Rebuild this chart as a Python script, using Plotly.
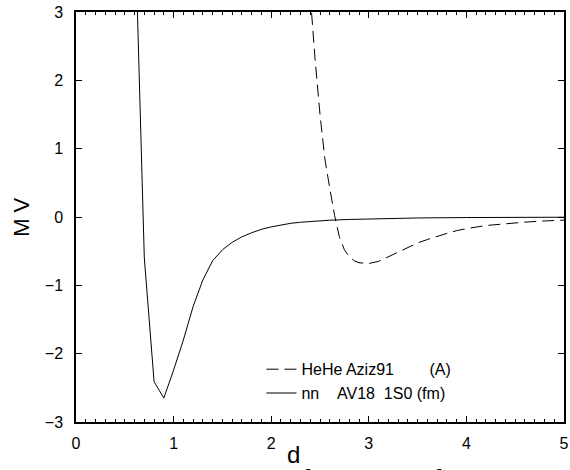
import plotly.graph_objects as go

# nn AV18 1S0 potential (solid)
nn_d = [0.6, 0.7, 0.8, 0.9, 1.0, 1.1, 1.2, 1.3, 1.4, 1.5, 1.6, 1.7, 1.8, 1.9,
        2.0, 2.1, 2.2, 2.3, 2.4, 2.5, 2.6, 2.8, 3.0, 3.5, 4.0, 4.5, 5.0]
nn_v = [4.5, -0.60, -2.41, -2.65, -2.24, -1.80, -1.31, -0.92, -0.64, -0.48, -0.37,
        -0.29, -0.23, -0.18, -0.145, -0.115, -0.092, -0.077, -0.065, -0.055,
        -0.047, -0.036, -0.028, -0.014, -0.008, -0.005, -0.003]

# HeHe Aziz91 potential (dashed)
he_d = [2.40, 2.45, 2.50, 2.55, 2.60, 2.65, 2.70, 2.75, 2.80, 2.85, 2.90, 2.95,
        3.00, 3.10, 3.20, 3.30, 3.40, 3.50, 3.60, 3.70, 3.80, 3.90, 4.00, 4.20,
        4.40, 4.60, 4.80, 5.00]
he_v = [3.25, 2.3, 1.5, 0.85, 0.42, 0.02, -0.30, -0.48, -0.58, -0.64, -0.67, -0.68,
        -0.68, -0.65, -0.58, -0.51, -0.44, -0.38, -0.33, -0.28, -0.24, -0.20, -0.17,
        -0.125, -0.095, -0.075, -0.058, -0.045]

x_ticks = [0, 1, 2, 3, 4, 5]
y_ticks = [-3, -2, -1, 0, 1, 2, 3]

NB = "\u00a0"
fig = go.Figure()
fig.add_trace(go.Scatter(x=he_d, y=he_v, mode="lines",
                         name="HeHe Aziz91" + NB * 8 + "(A)",
                         line=dict(color="black", width=1, dash="12px,6px")))
fig.add_trace(go.Scatter(x=nn_d, y=nn_v, mode="lines",
                         name="nn" + NB * 4 + "AV18" + NB * 2 + "1S0 (fm)",
                         line=dict(color="black", width=1)))

font_family = "Liberation Sans, Arial, sans-serif"
fig.update_layout(
    width=570, height=470,
    margin=dict(l=76, r=1, t=12, b=48),
    paper_bgcolor="white", plot_bgcolor="white",
    font=dict(family=font_family, size=16, color="black"),
    showlegend=True,
    legend=dict(x=0.38, y=0.17, xanchor="left", yanchor="top",
                bgcolor="rgba(0,0,0,0)", borderwidth=0,
                font=dict(size=16, family=font_family), tracegroupgap=0,
                itemwidth=30),
    xaxis=dict(range=[0, 5], tickvals=x_ticks, ticks="inside", ticklen=6,
               tickwidth=1, tickcolor="black", showline=True, linecolor="black",
               linewidth=1.5, mirror="ticks", showgrid=False, zeroline=False,
               ticklabelstandoff=6, ticklabeloverflow="allow",
               minor=dict(dtick=0.1, ticks="inside", ticklen=3, tickcolor="black",
                          tickwidth=1, showgrid=False)),
    yaxis=dict(range=[-3, 3], tickvals=y_ticks, ticks="inside", ticklen=6,
               tickwidth=1, tickcolor="black", showline=True, linecolor="black",
               linewidth=1.5, mirror="ticks", showgrid=False, zeroline=False,
               ticklabelstandoff=8, ticklabeloverflow="allow"),
    annotations=[
        dict(text="d", xref="paper", yref="paper", x=0.445, y=-0.08,
             xanchor="center", yanchor="middle", showarrow=False,
             font=dict(size=24, family=font_family)),
        dict(text="M V", xref="paper", yref="paper", x=-0.113, y=0.5,
             xanchor="center", yanchor="middle", showarrow=False, textangle=-90,
             font=dict(size=22, family=font_family)),
        dict(text="Figure 1:" + NB * 3 + "Comparison" + NB * 3 + "between" + NB * 3 + "the" + NB * 3 + "two",
             xref="paper", yref="paper", x=-0.15, y=-0.093,
             xanchor="left", yanchor="top", showarrow=False,
             font=dict(size=30, family="Liberation Serif, DejaVu Serif, serif")),
    ],
)

post = (
    "document.documentElement.style.overflow='hidden';"
    "document.body.style.margin='0';document.body.style.overflow='hidden';"
    "var gd=document.getElementById('{plot_id}');gd.style.overflow='hidden';"
    "gd.querySelectorAll('svg.main-svg').forEach(function(s){s.style.overflow='hidden';});"
)
fig.write_html("out.html", config={"displayModeBar": False}, post_script=post)
